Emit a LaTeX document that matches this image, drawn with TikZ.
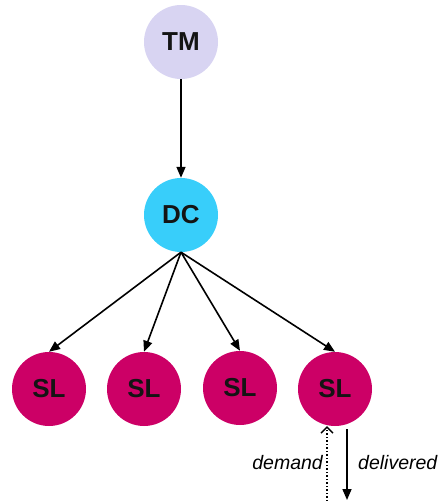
\documentclass[tikz,border=0pt]{standalone}
\usepackage{fontspec}
\setmainfont{Liberation Sans}
\usetikzlibrary{arrows.meta}
\definecolor{tmcol}{RGB}{216,212,242}
\definecolor{dccol}{RGB}{56,206,250}
\definecolor{slcol}{RGB}{204,0,102}
\begin{document}
\begin{tikzpicture}[x=1pt,y=-1pt,
  circ/.style={circle,minimum size=74pt,inner sep=0pt,font=\fontsize{26}{26}\selectfont\bfseries,text=black!92},
  link/.style={line width=1.6pt,-{Triangle[length=11pt,width=9pt]}},
  lbl/.style={font=\fontsize{19.5}{19.5}\selectfont\itshape,inner sep=0pt}]
\useasboundingbox (0,0) rectangle (438,501);
\clip (0,0) rectangle (438,501);
\node[circ,fill=tmcol] (tm) at (181,42) {TM};
\node[circ,fill=dccol] (dc) at (181,215) {DC};
\node[circ,fill=slcol] (sl1) at (49,389) {SL};
\node[circ,fill=slcol] (sl2) at (144,389) {SL};
\node[circ,fill=slcol] (sl3) at (240,388) {SL};
\node[circ,fill=slcol] (sl4) at (335,389) {SL};
\draw[link] (tm.south) -- (dc.north);
\foreach \s in {sl1,sl2,sl3,sl4} \draw[link] (dc.south) -- (\s.north);
\coordinate (dmB) at (327,501);
\coordinate (dlB) at (347,500);
\draw[line width=1.5pt,dotted,-{Straight Barb[length=6pt,width=12pt,line width=1.4pt]}] (dmB) -- (sl4.south -| dmB);
\draw[line width=1.6pt,-{Triangle[length=11pt,width=9pt]}] (sl4.south -| dlB) ++(0,3) -- (dlB);
\node[lbl,anchor=base east] (dm) at (323,469) {demand};
\node[lbl,anchor=base west] (dl) at (358,469) {delivered};
\end{tikzpicture}
\end{document}
